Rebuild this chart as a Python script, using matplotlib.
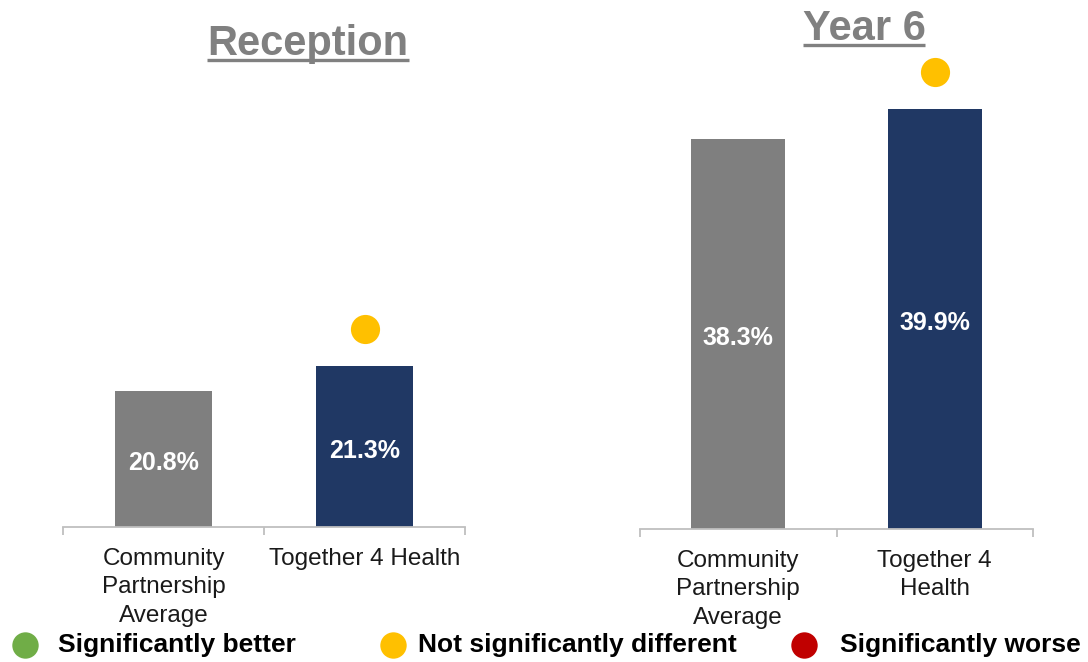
import matplotlib
matplotlib.use('Agg')
import matplotlib.pyplot as plt
import matplotlib.transforms as mtransforms
from matplotlib.lines import Line2D

plt.rcParams['font.family'] = ['Liberation Sans', 'DejaVu Sans']

# data
titles = ['Reception', 'Year 6']
categories = [['Community\nPartnership\nAverage', 'Together 4 Health'],
              ['Community\nPartnership\nAverage', 'Together 4\nHealth']]
reception = [20.8, 21.3]
year6 = [38.3, 39.9]
signif = [[None, 'ns'], [None, 'ns']]   # marker above bar
legend_labels = ['Significantly better', 'Not significantly different', 'Significantly worse']

GREY = '#7f7f7f'
NAVY = '#203864'
YELLOW = '#ffc000'
GREEN = '#70ad47'
RED = '#c00000'
AXIS = '#bfbfbf'
sig_colors = {'better': GREEN, 'ns': YELLOW, 'worse': RED}

W, H = 1088, 662
fig = plt.figure(figsize=(W / 100, H / 100), dpi=100)

# axes in pixel terms: (left, right, bottom, top), plus ylim top
panels = [
    dict(vals=reception, box=(63, 465, 527, 100), ymax=26.77, title_xy=(308, 55)),
    dict(vals=year6, box=(640, 1033, 529, 60), ymax=42.43, title_xy=(864, 40)),
]

title_texts = []
for i, p in enumerate(panels):
    l, r, b, t = p['box']
    ax = fig.add_axes([l / W, 1 - b / H, (r - l) / W, (b - t) / H])
    x = [0, 1]
    ax.bar(x, p['vals'], width=0.48, color=[GREY, NAVY], bottom=0)
    ax.set_ylim(18, p['ymax'])
    ax.set_xlim(-0.5, 1.5)
    for s in ['top', 'right', 'left']:
        ax.spines[s].set_visible(False)
    ax.spines['bottom'].set_color(AXIS)
    ax.spines['bottom'].set_linewidth(1.3)
    ax.set_yticks([])
    ax.set_xticks([-0.5, 0.5, 1.5])
    ax.set_xticklabels([])
    ax.tick_params(axis='x', which='major', direction='out', length=6, width=1.3, color=AXIS)
    ax.set_xticks(x, minor=True)
    ax.set_xticklabels(categories[i], minor=True, fontsize=17.5, color='#1a1a1a',
                       linespacing=1.38, va='top')
    ax.tick_params(axis='x', which='minor', length=0, pad=15)

    # value labels, a touch below the bar middle
    down = mtransforms.ScaledTranslation(0, -4 / 100, fig.dpi_scale_trans)
    for xi, v in zip(x, p['vals']):
        ax.text(xi, (18 + v) / 2, f'{v:.1f}%', ha='center', va='center',
                color='white', fontsize=18, fontweight='bold',
                transform=ax.transData + down)

    offset = mtransforms.ScaledTranslation(0, 37 / 100, fig.dpi_scale_trans)
    for xi, v, s in zip(x, p['vals'], signif[i]):
        if s:
            ax.plot([xi], [v], 'o', ms=21, color=sig_colors[s], mec='none',
                    transform=ax.transData + offset, clip_on=False)

    tx, ty = p['title_xy']
    tt = fig.text(tx / W, 1 - ty / H, titles[i], ha='center', va='baseline',
                  fontsize=30, fontweight='bold', color='#808080')
    title_texts.append((tt, ty))

# legend row
leg_marker_x = [25, 393, 804]
leg_text_x = [58, 418, 840]
leg_col = [GREEN, YELLOW, RED]
leg_y = 645
for mx, txx, c, lab in zip(leg_marker_x, leg_text_x, leg_col, legend_labels):
    fig.add_artist(Line2D([mx / W], [1 - leg_y / H], marker='o', ms=19, color=c,
                          mec='none', transform=fig.transFigure))
    fig.text(txx / W, 1 - leg_y / H, lab, ha='left', va='center',
             fontsize=19, fontweight='bold', color='black')

# underline the titles
fig.canvas.draw()
renderer = fig.canvas.get_renderer()
for tt, ty in title_texts:
    bb = tt.get_window_extent(renderer)
    yline = 1 - (ty + 4.5) / H
    fig.add_artist(Line2D([bb.x0 / W, bb.x1 / W], [yline, yline], color='#808080',
                          lw=2.4, transform=fig.transFigure, solid_capstyle='butt'))

fig.savefig('out.png', dpi=100)
